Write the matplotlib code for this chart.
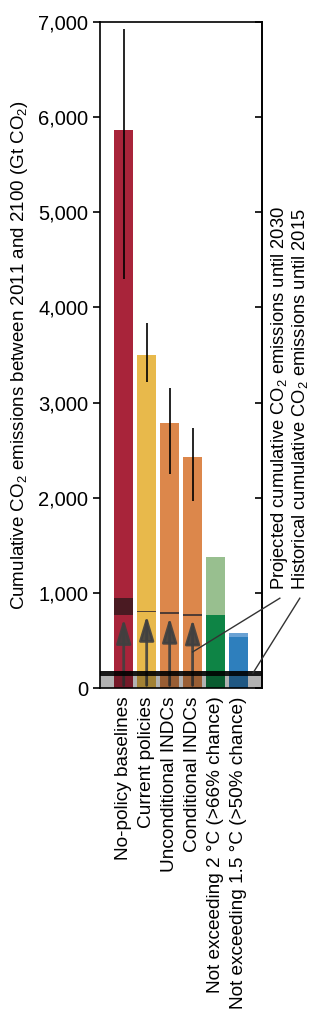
import matplotlib
matplotlib.use("Agg")
import matplotlib.pyplot as plt
import numpy as np

plt.rcParams['font.family'] = ['Liberation Sans', 'DejaVu Sans']
plt.rcParams['mathtext.fontset'] = 'custom'
plt.rcParams['mathtext.rm'] = 'Liberation Sans'
plt.rcParams['mathtext.it'] = 'Liberation Sans'

categories = ['No-policy baselines', 'Current policies', 'Unconditional INDCs',
              'Conditional INDCs', 'Not exceeding 2 °C (>66% chance)',
              'Not exceeding 1.5 °C (>50% chance)']
totals = [5870, 3500, 2790, 2430, 1380, 578]
bar_colors = ['#a8243a', '#e8b94b', '#dc874b', '#dc874b', '#98bf8f', '#6aa2d4']
# ranges for the first four scenarios
err_low = [4300, 3215, 2250, 1965]
err_high = [6930, 3835, 3150, 2730]
# emissions until 2030 (no-policy shown as a range)
proj_lo = [767, 800, 780, 762]
proj_hi = [945, 810, 795, 778]
# budgets: darker lower part
budget_dark = [767, 536]
budget_dark_colors = ['#0e8445', '#2e7fbd']
hist_2015 = 125
hist_line = 180

fig = plt.figure(figsize=(3.27, 10.24), dpi=100)
ax = fig.add_axes([0.306, 0.328, 0.495, 0.6505])

x = np.arange(len(categories))
w = 0.82
ax.bar(x, totals, width=w, color=bar_colors, zorder=1)
ax.bar(x[4:], budget_dark, width=w, color=budget_dark_colors, zorder=1)

# 2030 markers
ax.bar(x[0], proj_hi[0] - proj_lo[0], bottom=proj_lo[0], width=w, color='#4a1a22', zorder=2)
for i in range(1, 4):
    ax.bar(x[i], proj_hi[i] - proj_lo[i], bottom=proj_lo[i], width=w, color='#3a3030', alpha=0.85, zorder=2)

# uncertainty ranges
ax.vlines(x[:4], err_low, err_high, color='black', lw=1.2, zorder=3)

# arrows from zero up to 2030 level
for i in range(4):
    ax.annotate('', xy=(x[i], proj_lo[i] - 10), xytext=(x[i], 0),
                arrowprops=dict(arrowstyle='-|>,head_width=0.45,head_length=1.5',
                                color='#404040', lw=2, alpha=0.9), zorder=4)

# historical band
ax.axhspan(0, hist_2015, color='black', alpha=0.3, lw=0, zorder=5)
ax.axhspan(hist_2015, hist_line, color='black', alpha=0.9, lw=0, zorder=5)

ax.set_xlim(-1.03, 6.02)
ax.set_ylim(0, 7000)
ax.set_yticks(np.arange(0, 7001, 1000))
ax.set_yticklabels(['0', '1,000', '2,000', '3,000', '4,000', '5,000', '6,000', '7,000'])
ax.tick_params(axis='y', labelsize=14.5, direction='out', length=5, width=1.2)
ax.set_xticks(x)
ax.set_xticklabels(categories, rotation=90, fontsize=13.7)
ax.tick_params(axis='x', length=0, pad=6)
for s in ax.spines.values():
    s.set_linewidth(1.2)

# right ticks point inward
sec = ax.secondary_yaxis('right')
sec.set_yticks(np.arange(0, 7001, 1000))
sec.tick_params(direction='in', length=5, width=1.2, labelright=False)
sec.spines['right'].set_linewidth(1.2)

ax.set_ylabel(r'Cumulative CO$_2$ emissions between 2011 and 2100 (Gt CO$_2$)', fontsize=13.5, labelpad=6)

# annotation texts and pointer lines
ax.text(6.8, 1030, r'Projected cumulative CO$_2$ emissions until 2030', rotation=90,
        ha='center', va='bottom', fontsize=13.2, clip_on=False)
ax.text(7.68, 1030, r'Historical cumulative CO$_2$ emissions until 2015', rotation=90,
        ha='center', va='bottom', fontsize=13.2, clip_on=False)
ax.plot([3.0, 6.8], [380, 945], color='#333333', lw=1, clip_on=False, zorder=6)
ax.plot([5.63, 7.67], [158, 945], color='#333333', lw=1, clip_on=False, zorder=6)

fig.savefig('out.png', dpi=100)
